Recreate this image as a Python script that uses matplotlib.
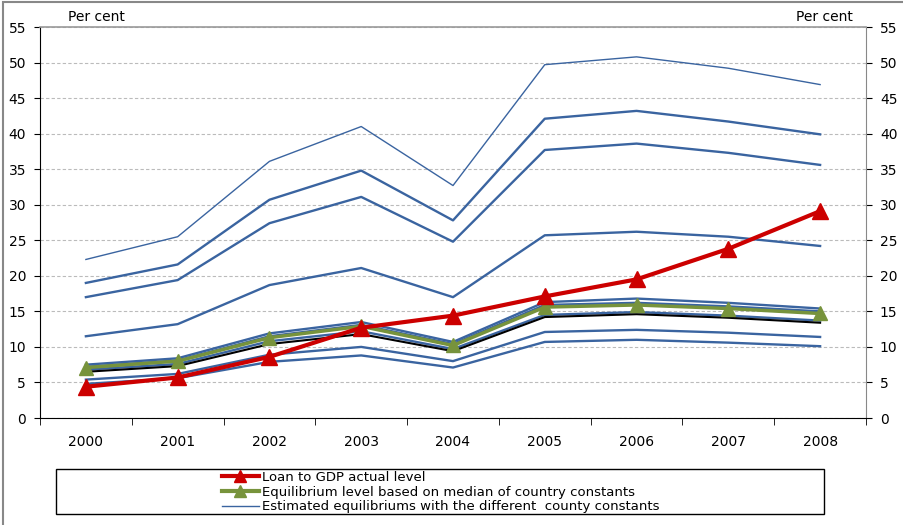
import matplotlib.pyplot as plt
from matplotlib.patches import Rectangle

years = ['2000', '2001', '2002', '2003', '2004', '2005', '2006', '2007', '2008']

# Loan to GDP actual level
actual = [4.4, 5.7, 8.6, 12.7, 14.4, 17.1, 19.5, 23.8, 29.1]
# Equilibrium level based on median of country constants
median_eq = [7.1, 8.0, 11.3, 12.9, 10.2, 15.6, 15.9, 15.4, 14.7]

# Estimated equilibriums with the different country constants
eq_top = [22.3, 25.5, 36.1, 41.0, 32.7, 49.7, 50.8, 49.2, 46.9]
eq_2 = [19.0, 21.6, 30.7, 34.8, 27.8, 42.1, 43.2, 41.7, 39.9]
eq_3 = [17.0, 19.4, 27.4, 31.1, 24.8, 37.7, 38.6, 37.3, 35.6]
eq_4 = [11.5, 13.2, 18.7, 21.1, 17.0, 25.7, 26.2, 25.5, 24.2]
eq_5 = [7.5, 8.4, 11.9, 13.5, 10.7, 16.3, 16.8, 16.2, 15.4]
eq_6 = [7.2, 8.1, 11.5, 13.1, 10.4, 15.9, 16.2, 15.7, 15.0]
eq_7 = [6.8, 7.6, 10.8, 12.2, 9.7, 14.5, 14.9, 14.4, 13.7]
eq_black = [6.5, 7.3, 10.4, 11.8, 9.4, 14.2, 14.6, 14.1, 13.4]
eq_8 = [5.4, 6.2, 8.9, 10.0, 8.0, 12.1, 12.4, 12.0, 11.4]
eq_9 = [4.8, 5.6, 7.9, 8.8, 7.1, 10.7, 11.0, 10.6, 10.1]

blue = '#3A64A0'

fig = plt.figure(figsize=(9.04, 5.25), dpi=100)
ax = fig.add_axes([40 / 904, 1 - 418 / 525, 826 / 904, 391 / 525])
x = list(range(len(years)))

ax.plot(x, eq_top, color=blue, lw=1.0, zorder=2)
for s in [eq_2, eq_3, eq_4, eq_5, eq_6, eq_7, eq_8, eq_9]:
    ax.plot(x, s, color=blue, lw=1.7, zorder=2)
ax.plot(x, eq_black, color='black', lw=1.5, zorder=2)
ax.plot(x, median_eq, color='#77933C', lw=2.5, marker='^', ms=10, zorder=3)
ax.plot(x, actual, color='#CC0000', lw=3, marker='^', ms=11, zorder=4)

ax.set_xlim(-0.5, 8.5)
ax.set_ylim(0, 55)
ax.set_yticks(range(0, 56, 5))
ax.set_xticks(x)
ax.set_xticklabels(years)
ax.set_xticks([i - 0.5 for i in range(10)], minor=True)
ax.tick_params(axis='x', which='major', length=0, pad=12, labelsize=10)
ax.tick_params(axis='x', which='minor', length=5, direction='out')
ax.tick_params(axis='y', labelsize=10, length=4, direction='out',
               left=True, right=True, labelleft=True, labelright=True, pad=6)
ax.grid(axis='y', color='#BBBBBB', ls=(0, (3, 2)), lw=0.8)
ax.set_axisbelow(True)
ax.spines['left'].set_color('black')
ax.spines['bottom'].set_color('black')
ax.spines['right'].set_color('#888888')
ax.spines['top'].set_color('#999999')
ax.spines['top'].set_linewidth(1.2)

fig.text(68 / 904, 1 - 17 / 525, 'Per cent', fontsize=10, va='center')
fig.text(853 / 904, 1 - 17 / 525, 'Per cent', fontsize=10, va='center', ha='right')

# outer frame and legend frame
fig.patches.append(Rectangle((3 / 904, -0.1), 2, 1 - 2 / 525 + 0.1,
                             transform=fig.transFigure, fill=False,
                             edgecolor='#888888', lw=1.5))
fig.patches.append(Rectangle((56 / 904, 1 - 514 / 525), 768 / 904, 45 / 525,
                             transform=fig.transFigure, fill=False,
                             edgecolor='black', lw=1))

handles = [
    plt.Line2D([], [], color='#CC0000', lw=3, marker='^', ms=8),
    plt.Line2D([], [], color='#77933C', lw=3, marker='^', ms=8),
    plt.Line2D([], [], color=blue, lw=1),
]
labels = ['Loan to GDP actual level',
          'Equilibrium level based on median of country constants',
          'Estimated equilibriums with the different  county constants']
fig.legend(handles, labels, loc='upper left', frameon=False,
           bbox_to_anchor=(222 / 904, 1 - 471 / 525), fontsize=9.5,
           handlelength=2.8, handletextpad=0.2, labelspacing=0.12,
           borderpad=0, borderaxespad=0)

fig.savefig('out.png', dpi=100)
